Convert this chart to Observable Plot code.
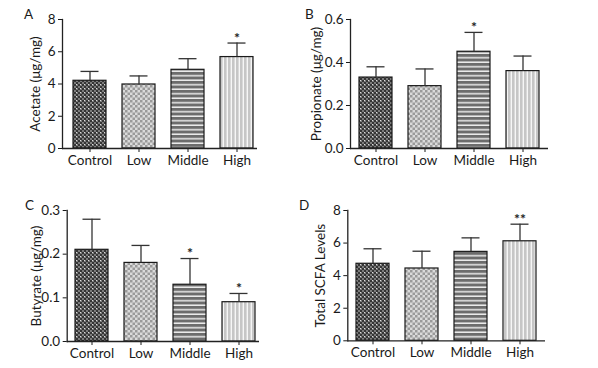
<!DOCTYPE html>
<html>
<head>
<meta charset="utf-8">
<script src="https://cdn.jsdelivr.net/npm/d3@7"></script>
<script src="https://cdn.jsdelivr.net/npm/@observablehq/plot@0.6"></script>
<style>
  html, body { margin: 0; padding: 0; background: #fff; }
  #wrap { position: relative; width: 598px; height: 368px; font-family: Lato, sans-serif; color: #1a1a1a; }
  .panel { position: absolute; }
  .letter { position: absolute; font-size: 13.5px; line-height: 1; }
  svg { overflow: visible; }
</style>
</head>
<body>
<svg width="0" height="0" style="position:absolute">
  <defs>
    <pattern id="pControl" width="4" height="4" patternUnits="userSpaceOnUse">
      <rect width="4" height="4" fill="#363636"/>
      <rect x="0" y="0" width="2" height="2" fill="#7c7c7c"/>
      <rect x="2" y="2" width="2" height="2" fill="#7c7c7c"/>
      <rect x="0" y="0" width="1" height="1" fill="#dcdcdc"/>
    </pattern>
    <pattern id="pLow" width="5" height="5" patternUnits="userSpaceOnUse">
      <rect width="5" height="5" fill="#dadada"/>
      <rect x="0" y="0" width="2.5" height="2.5" fill="#9a9a9a"/>
      <rect x="2.5" y="2.5" width="2.5" height="2.5" fill="#9a9a9a"/>
    </pattern>
    <pattern id="pMiddle" width="5" height="4.5" patternUnits="userSpaceOnUse">
      <rect width="5" height="4.5" fill="#6c6c6c"/>
      <rect x="0" y="3" width="5" height="1.5" fill="#ececec"/>
    </pattern>
    <pattern id="pHigh" width="4" height="5" patternUnits="userSpaceOnUse">
      <rect width="4" height="5" fill="#c6c6c6"/>
      <rect x="2.6" y="0" width="1.4" height="5" fill="#f6f6f6"/>
    </pattern>
  </defs>
</svg>
<div id="wrap">
  <div class="letter" style="left:24px;top:8px">A</div>
  <div class="letter" style="left:305px;top:8px">B</div>
  <div class="letter" style="left:25px;top:199px">C</div>
  <div class="letter" style="left:299px;top:199px">D</div>
  <div class="panel" id="pa" style="left:0px;top:0px"></div>
  <div class="panel" id="pb" style="left:300px;top:0px"></div>
  <div class="panel" id="pc" style="left:0px;top:180px"></div>
  <div class="panel" id="pd" style="left:300px;top:180px"></div>
</div>
<script>
const groups = ["Control", "Low", "Middle", "High"];
const patternFills = ["url(#pControl)", "url(#pLow)", "url(#pMiddle)", "url(#pHigh)"];

const acetateMean = [4.2, 3.97, 4.88, 5.67];
const acetateSD = [0.58, 0.53, 0.69, 0.87];
const acetateSig = ["", "", "", "*"];
const acetateTicks = [0, 2, 4, 6, 8];

const propionateMean = [0.33, 0.29, 0.45, 0.36];
const propionateSD = [0.05, 0.08, 0.09, 0.07];
const propionateSig = ["", "", "*", ""];
const propionateTicks = [0, 0.2, 0.4, 0.6];

const butyrateMean = [0.21, 0.18, 0.13, 0.09];
const butyrateSD = [0.07, 0.04, 0.06, 0.02];
const butyrateSig = ["", "", "*", "*"];
const butyrateTicks = [0, 0.1, 0.2, 0.3];

const totalMean = [4.73, 4.44, 5.46, 6.11];
const totalSD = [0.92, 1.06, 0.86, 1.05];
const totalSig = ["", "", "", "**"];
const totalTicks = [0, 2, 4, 6, 8];

function panel(o) {
  const data = groups.map((g, i) => ({group: g, mean: o.mean[i], top: o.mean[i] + o.sd[i], sig: o.sig[i]}));
  const ticks = o.ticks;
  const chart = Plot.plot({
    width: o.width, height: o.height,
    marginLeft: o.mL, marginRight: o.mR, marginTop: o.mT, marginBottom: o.mB,
    style: {fontFamily: "Lato, sans-serif", fontSize: "13.5px", color: "#1a1a1a", background: "transparent", overflow: "visible"},
    x: {domain: groups, range: o.xr, paddingInner: 0.33, paddingOuter: 0, label: null},
    y: {domain: [ticks[0], ticks[ticks.length - 1]], label: null},
    color: {type: "ordinal", domain: groups, range: patternFills},
    marks: [
      Plot.barY(data, {x: "group", y: "mean", fill: "group", stroke: "#1a1a1a", strokeWidth: 1.2}),
      Plot.ruleX(data, {x: "group", y1: "mean", y2: "top", stroke: "#333", strokeWidth: 1.3}),
      Plot.tickY(data, {x: "group", y: "top", stroke: "#333", strokeWidth: 1.3, insetLeft: 7.5, insetRight: 7.5}),
      Plot.text(data, {x: "group", y: "top", text: "sig", dy: -5, fontSize: 14, fontWeight: "bold", fill: "#222"}),
      Plot.axisX({tickSize: 4, tickPadding: 3, label: null, fontSize: 13.5}),
      Plot.axisY({ticks, tickFormat: o.fmt, tickSize: 4, tickPadding: 3, label: o.label, labelAnchor: "center", labelArrow: "none", labelOffset: o.labelOffset, fontSize: 13.5}),
      Plot.ruleY([ticks[0]], {stroke: "#222", strokeWidth: 1.3}),
      Plot.frame({anchor: "left", stroke: "#222", strokeWidth: 1.3})
    ]
  });
  document.getElementById(o.el).appendChild(chart);
}

panel({el: "pa", mean: acetateMean, sd: acetateSD, sig: acetateSig, ticks: acetateTicks, fmt: d3.format("d"),
  label: "Acetate (μg/mg)", width: 300, height: 180, mL: 62, mR: 43, mT: 19, mB: 32, xr: [72, 253], labelOffset: 32});
panel({el: "pb", mean: propionateMean, sd: propionateSD, sig: propionateSig, ticks: propionateTicks, fmt: d3.format(".1f"),
  label: "Propionate (μg/mg)", width: 298, height: 180, mL: 50, mR: 50, mT: 19, mB: 32, xr: [58.3, 239], labelOffset: 39});
panel({el: "pc", mean: butyrateMean, sd: butyrateSD, sig: butyrateSig, ticks: butyrateTicks, fmt: d3.format(".1f"),
  label: "Butyrate (μg/mg)", width: 300, height: 188, mL: 66.7, mR: 41, mT: 30, mB: 27, xr: [74, 255], labelOffset: 36});
panel({el: "pd", mean: totalMean, sd: totalSD, sig: totalSig, ticks: totalTicks, fmt: d3.format("d"),
  label: "Total SCFA Levels", width: 298, height: 188, mL: 47.3, mR: 53, mT: 30, mB: 27.7, xr: [55.7, 236.7], labelOffset: 32});
</script>
</body>
</html>
